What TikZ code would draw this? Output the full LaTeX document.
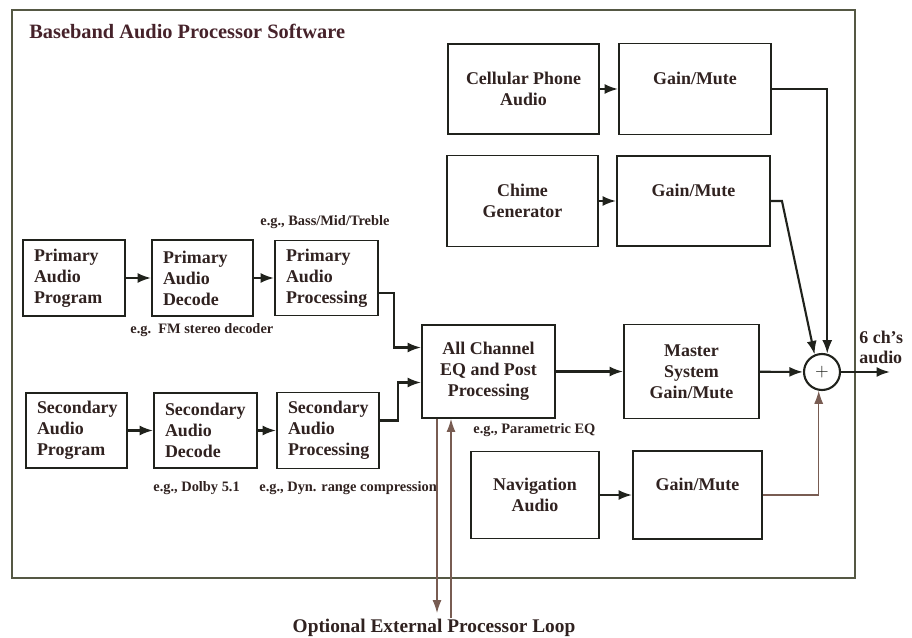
\documentclass[tikz,border=0pt]{standalone}
\usepackage{fontspec}
\setmainfont{Liberation Serif}
\usepackage{tikz}
\usetikzlibrary{arrows.meta, positioning}
\definecolor{ink}{RGB}{32,34,28}
\definecolor{txt}{RGB}{48,34,32}
\definecolor{ttl}{RGB}{70,34,42}
\definecolor{wire}{RGB}{120,92,82}
\definecolor{frm}{RGB}{85,88,68}
\tikzstyle{block} = [rectangle,
draw=ink, line width=1.1pt,
align=center, text=txt,
font=\fontsize{10.2}{12}\selectfont\bfseries,
inner sep=2pt]
\tikzstyle{lblock} = [block, align=left, inner xsep=0.22cm]
\tikzstyle{note} = [anchor=west, text=txt, inner sep=0pt,
font=\fontsize{8.2}{10}\selectfont\bfseries]
\tikzstyle{arrow} = [line width=1.2pt, draw=ink, -{Latex[length=0.27cm,width=0.2cm]}]
\tikzstyle{thinarrow} = [line width=0.6pt, draw=wire, -{Latex[length=0.26cm,width=0.18cm]}]

\begin{document}
\begin{tikzpicture}[x=0.02cm, y=-0.02cm]
        \useasboundingbox (0,0) rectangle (912,638);

        % Marco del software
        \draw[frm, line width=0.8pt] (12,10) rectangle (855,578);
        \node[anchor=west, inner sep=0pt, text=ttl, font=\fontsize{11.6}{14}\selectfont\bfseries] (title) at (29,31) {Baseband Audio Processor Software};

        % Cadena principal
        \node[lblock, text width=1.60cm, minimum height=1.52cm] (prog1) at (74,278) {Primary\\Audio\\Program};
        \node[lblock, text width=1.58cm, minimum height=1.52cm] (dec1) at (202.5,278) {Primary\\Audio\\Decode};
        \node[lblock, text width=1.62cm, minimum height=1.50cm] (proc1) at (326.5,278) {Primary\\Audio\\Processing};

        % Cadena secundaria
        \node[lblock, text width=1.58cm, minimum height=1.50cm] (prog2) at (76.5,430.5) {Secondary\\Audio\\Program};
        \node[lblock, text width=1.62cm, minimum height=1.50cm] (dec2) at (205.5,430.5) {Secondary\\Audio\\Decode};
        \node[lblock, text width=1.60cm, minimum height=1.52cm] (proc2) at (328,430.5) {Secondary\\Audio\\Processing};

        % Ecualizador y ganancia maestra
        \node[block, minimum width=2.66cm, minimum height=1.86cm] (eq) at (488.5,371.5) {All Channel\\EQ and Post\\Processing};
        \node[block, minimum width=2.70cm, minimum height=1.88cm] (master) at (691.5,371.5) {Master\\System\\Gain/Mute};
        \node[circle, draw=ink, line width=1.2pt, minimum size=0.72cm, inner sep=0pt, text=ink] (sum) at (822,372) {$+$};

        % Fuentes auxiliares
        \node[block, minimum width=3.02cm, minimum height=1.80cm] (cell) at (523.5,89) {Cellular Phone\\Audio};
        \node[block, minimum width=3.04cm, minimum height=1.82cm] (cellgain) at (695,89) {Gain/Mute\\ \phantom{M}};
        \node[block, minimum width=3.02cm, minimum height=1.82cm] (chime) at (522.5,201) {Chime\\Generator};
        \node[block, minimum width=3.06cm, minimum height=1.80cm] (chimegain) at (693.5,201) {Gain/Mute\\ \phantom{M}};
        \node[block, minimum width=2.56cm, minimum height=1.74cm] (nav) at (535,495) {Navigation\\Audio};
        \node[block, minimum width=2.58cm, minimum height=1.76cm] (navgain) at (697.5,495) {Gain/Mute\\ \phantom{M}};

        % Notas de ejemplo
        \node[note] (bass) at (260,222) {e.g., Bass/Mid/Treble};
        \node[note] (fm) at (130,330) {e.g.\ \ FM stereo decoder};
        \node[note] (dolby) at (153,488) {e.g., Dolby 5.1};
        \node[note] (dyn) at (259,488) {e.g., Dyn. range compression};
        \node[note] (peq) at (473,430) {e.g., Parametric EQ};

        % Flechas de las cadenas
        \draw[arrow] (prog1) -- (dec1);
        \draw[arrow] (dec1) -- (proc1);
        \draw[arrow] ([yshift=-0.3cm]proc1.east) -- ++(15,0) |- ([yshift=0.48cm]eq.west);
        \draw[arrow] (prog2) -- (dec2);
        \draw[arrow] (dec2) -- (proc2);
        \draw[arrow] ([yshift=0.2cm]proc2.east) -- ++(18,0) |- ([yshift=-0.22cm]eq.west);
        \draw[arrow] (eq) -- (master);
        \draw[arrow] (master) -- (sum);

        % Entradas al sumador
        \draw[arrow] (cell) -- (cellgain);
        \draw[arrow] (chime) -- (chimegain);
        \draw[arrow] (cellgain.east) -| (sum.74);
        \draw[arrow] (chimegain.east) -- ++(11,0) -- (sum.113);
        \draw[arrow] (nav) -- (navgain);
        \draw[thinarrow] (navgain.east) -| (sum.260);

        % Salida
        \coordinate (out) at (890,372);
        \draw[arrow] (sum) -- (out);
        \node[anchor=west, align=left, inner sep=0pt, text=txt, font=\fontsize{10.2}{11.5}\selectfont\bfseries] (outlbl) at (859,347) {6 ch’s\\audio};

        % Lazo externo opcional
        \coordinate (loopout) at (437,613);
        \coordinate (loopin) at (451,618);
        \draw[thinarrow] (eq.south -| loopout) -- (loopout);
        \draw[thinarrow] (loopin) -- (eq.south -| loopin);
        \node[text=txt, inner sep=0pt, font=\fontsize{11}{13}\selectfont\bfseries] (looplbl) at (434,628) {Optional External Processor Loop};

    \end{tikzpicture}
\end{document}
